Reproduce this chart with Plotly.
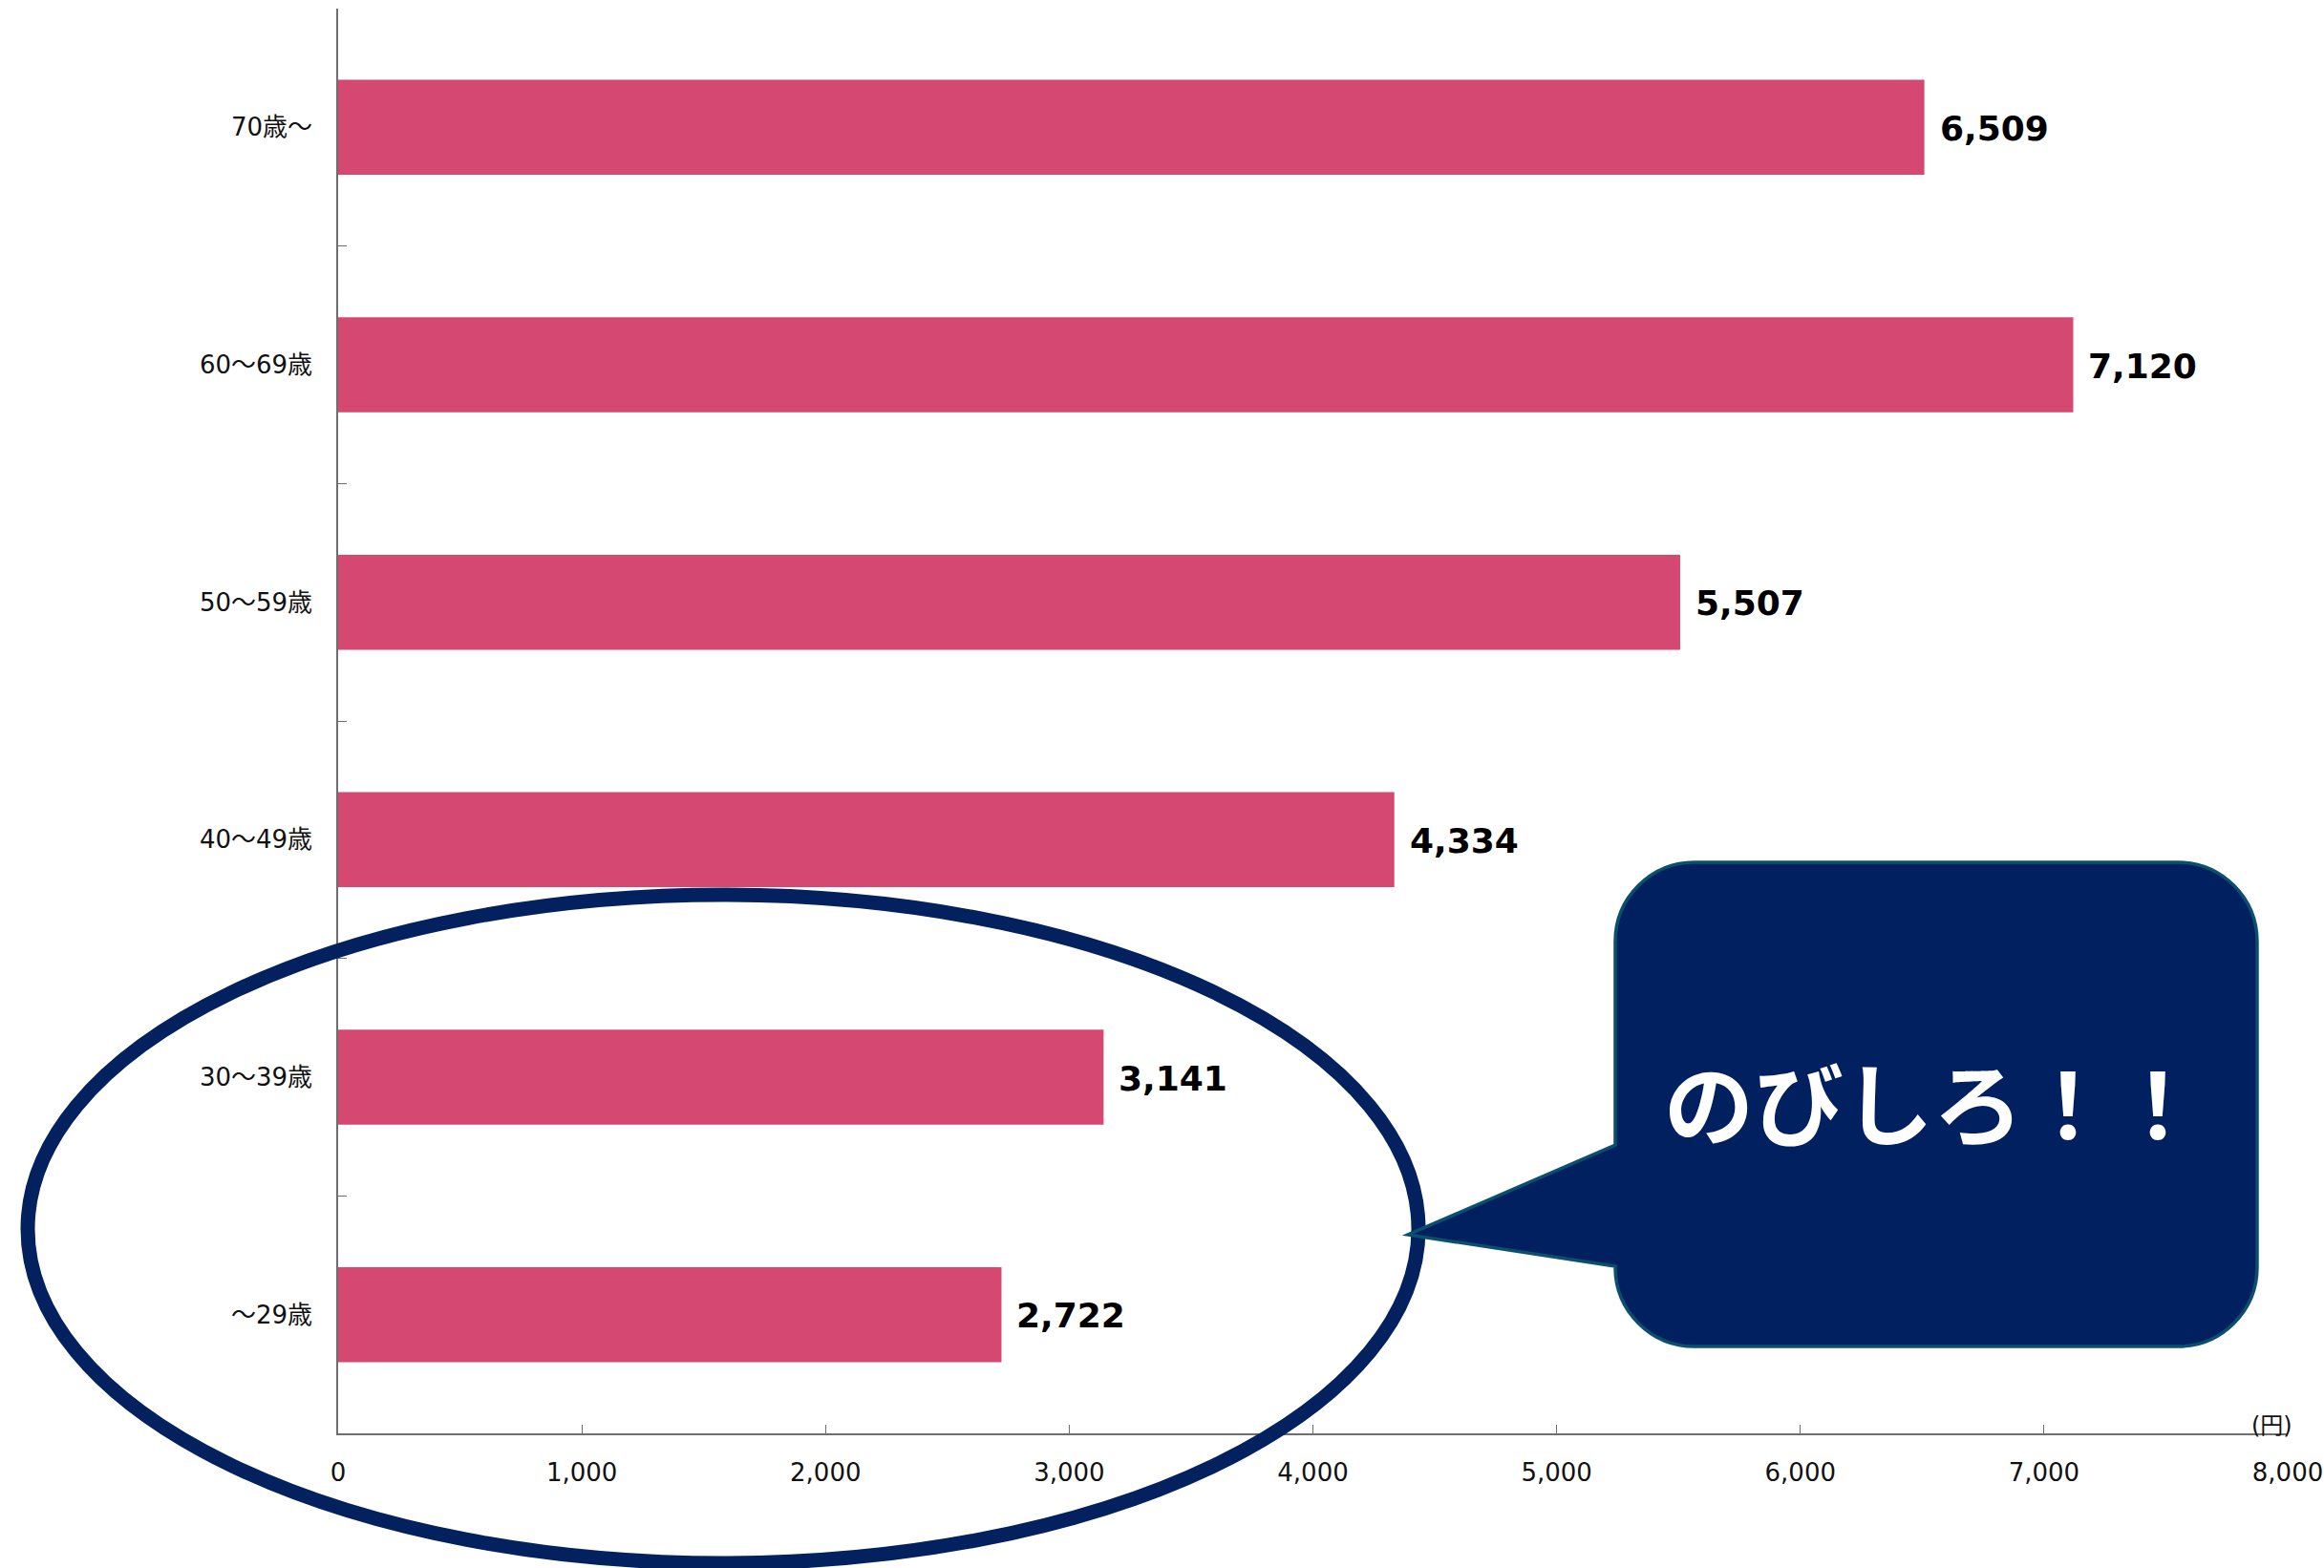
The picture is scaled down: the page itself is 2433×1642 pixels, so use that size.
import plotly.graph_objects as go

# ---- data ----
categories = ["～29歳", "30～39歳", "40～49歳", "50～59歳", "60～69歳", "70歳～"]
values = [2722, 3141, 4334, 5507, 7120, 6509]
x_ticks = [0, 1000, 2000, 3000, 4000, 5000, 6000, 7000, 8000]
x_tick_labels = ["0", "1,000", "2,000", "3,000", "4,000", "5,000", "6,000", "7,000", "8,000"]
unit_label = "(円)"
callout_text = "のびしろ！！"

# ---- layout geometry (pixels) ----
W, H = 2433, 1642
L, R, T, B = 354, 2395, 9, 1501
PW, PH = R - L, B - T

def px(xp):
    return (xp - L) / PW

def py(yp):
    return (B - yp) / PH

BAR = "#D44872"
NAVY = "#012060"
AXIS = "#6e6e6e"
TICKFONT = dict(family="DejaVu Sans, Noto Sans CJK JP", size=26, color="#111111")

fig = go.Figure()
fig.add_trace(go.Bar(
    x=values, y=categories, orientation="h",
    width=0.4, marker=dict(color=BAR, line=dict(width=0)),
    hoverinfo="skip", showlegend=False,
))

annotations = []
for c, v in zip(categories, values):
    annotations.append(dict(
        x=v, y=c, xref="x", yref="y", text=f"{v:,}", showarrow=False,
        xanchor="left", yanchor="middle", xshift=14, yshift=-1,
        font=dict(family="DejaVu Sans", size=36, color="#000000", weight="bold"),
    ))

annotations.append(dict(
    x=px(2378), y=py(1493), xref="paper", yref="paper", text=unit_label,
    showarrow=False, xanchor="center", yanchor="middle",
    font=dict(family="DejaVu Sans, Noto Sans CJK JP", size=24, color="#111111"),
))
annotations.append(dict(
    x=px(2024), y=py(1152), xref="paper", yref="paper", text=callout_text,
    showarrow=False, xanchor="center", yanchor="middle",
    font=dict(family="Noto Sans CJK JP", size=94, color="#ffffff", weight="bold"),
))

# callout bubble path (rounded rectangle with tail)
x0, x1, y0, y1, r = 1691, 2363, 903, 1410, 83
k = 0.5523 * r
tail_top, tail_bot, tip = 1199, 1326, (1474, 1293)

def P(a, b):
    return f"{px(a):.6f},{py(b):.6f}"

path = (
    f"M {P(x0 + r, y0)} L {P(x1 - r, y0)} "
    f"C {P(x1 - r + k, y0)} {P(x1, y0 + r - k)} {P(x1, y0 + r)} "
    f"L {P(x1, y1 - r)} "
    f"C {P(x1, y1 - r + k)} {P(x1 - r + k, y1)} {P(x1 - r, y1)} "
    f"L {P(x0 + r, y1)} "
    f"C {P(x0 + r - k, y1)} {P(x0, y1 - r + k)} {P(x0, y1 - r)} "
    f"L {P(x0, tail_bot)} L {P(tip[0], tip[1])} L {P(x0, tail_top)} "
    f"L {P(x0, y0 + r)} "
    f"C {P(x0, y0 + r - k)} {P(x0 + r - k, y0)} {P(x0 + r, y0)} Z"
)

shapes = [
    dict(type="circle", xref="paper", yref="paper",
         x0=px(29), x1=px(1485), y0=py(1637), y1=py(937),
         line=dict(color="#03215F", width=15), fillcolor="rgba(0,0,0,0)", layer="above"),
    dict(type="path", xref="paper", yref="paper", path=path,
         fillcolor=NAVY, line=dict(color="#0B4F6E", width=3.5), layer="above"),
]

fig.update_layout(
    width=W, height=H,
    margin=dict(l=L, r=W - R, t=T, b=H - B, pad=0, autoexpand=False),
    paper_bgcolor="white", plot_bgcolor="white",
    annotations=annotations, shapes=shapes,
    bargap=0.6,
    xaxis=dict(
        range=[0, 8000], tickmode="array", tickvals=x_ticks, ticktext=x_tick_labels,
        showgrid=False, zeroline=False, showline=True, linecolor=AXIS, linewidth=1.5,
        ticks="inside", ticklen=9, tickcolor=AXIS, tickwidth=1.2, automargin=False,
        tickfont=TICKFONT, ticklabelstandoff=17, fixedrange=True,
    ),
    yaxis=dict(
        categoryorder="array", categoryarray=categories, range=[-0.5, 5.5],
        showgrid=False, zeroline=False, showline=True, linecolor=AXIS, linewidth=1.5,
        ticks="inside", ticklen=9, tickcolor=AXIS, tickwidth=1.2, tickson="boundaries",
        automargin=False,
        tickfont=TICKFONT, ticklabelstandoff=20, fixedrange=True,
    ),
)

fig.write_html("out.html", config={"displayModeBar": False})
